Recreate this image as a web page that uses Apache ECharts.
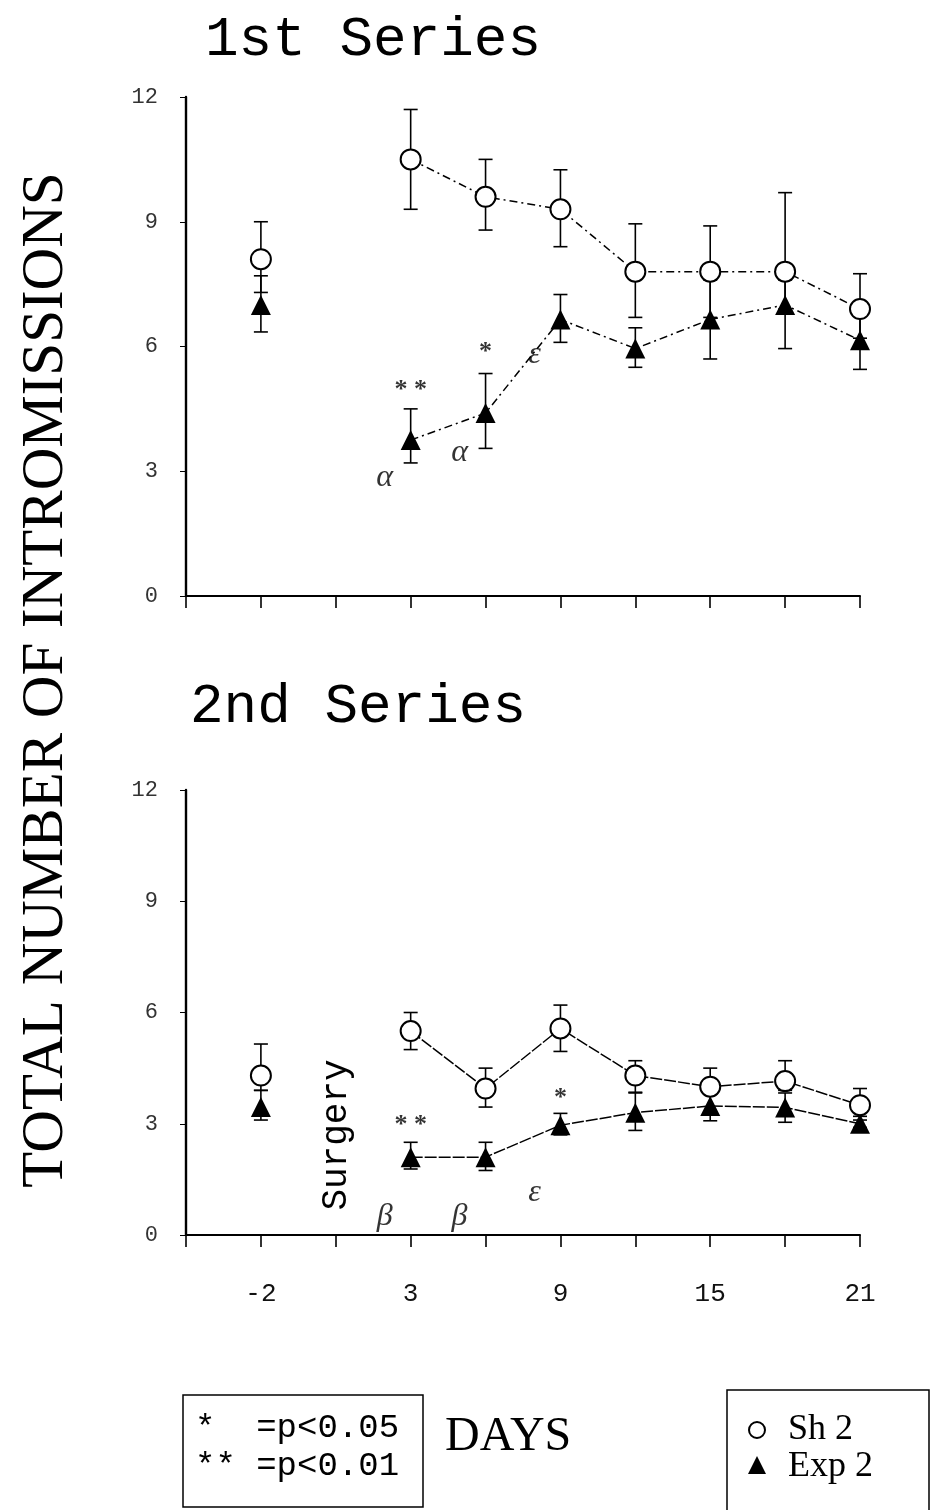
<!DOCTYPE html>
<html>
<head>
	<meta charset="utf-8" />
	<title>Total number of intromissions</title>
	<script src="https://cdn.jsdelivr.net/npm/echarts@6/dist/echarts.min.js"></script>
	<style>
		body { margin: 0; background: #fff; }
		#chart { width: 934px; height: 1510px; }
	</style>
</head>
<body>
<div id="chart"></div>
<script type="text/javascript">
	// x slots: axis start, day -2, surgery gap, then days 3..21
	var xCategories = ['start', '-2', 'surgery', '3', '6', '9', '12', '15', '18', '21'];
	var xTickLabels = ['', '-2', '', '3', '', '9', '', '15', '', '21'];
	var yTicks = [0, 3, 6, 9, 12];

	// 1st series
	var sh1    = [null, 8.1, null, 10.5, 9.6, 9.3, 7.8, 7.8, 7.8, 6.9];
	var sh1Lo  = [null, 7.3, null, 9.3, 8.8, 8.4, 6.7, 6.7, 6.9, 6.2];
	var sh1Hi  = [null, 9.0, null, 11.7, 10.5, 10.25, 8.95, 8.9, 9.7, 7.75];
	var exp1   = [null, 7.0, null, 3.75, 4.4, 6.65, 5.95, 6.65, 7.0, 6.15];
	var exp1Lo = [null, 6.35, null, 3.2, 3.55, 6.1, 5.5, 5.7, 5.95, 5.45];
	var exp1Hi = [null, 7.7, null, 4.5, 5.35, 7.25, 6.45, 7.6, 7.6, 6.8];

	// 2nd series
	var sh2    = [null, 4.3, null, 5.5, 3.95, 5.57, 4.3, 4.0, 4.15, 3.5];
	var sh2Lo  = [null, 3.9, null, 5.0, 3.45, 4.95, 3.85, 3.8, 3.9, 3.2];
	var sh2Hi  = [null, 5.15, null, 6.0, 4.5, 6.2, 4.7, 4.5, 4.7, 3.95];
	var exp2   = [null, 3.45, null, 2.1, 2.1, 2.96, 3.3, 3.48, 3.44, 3.0];
	var exp2Lo = [null, 3.1, null, 1.78, 1.74, 2.7, 2.82, 3.08, 3.04, 2.9];
	var exp2Hi = [null, 3.9, null, 2.5, 2.5, 3.28, 3.83, 3.83, 3.83, 3.1];

	// significance marks and letters: [slot, y, text]
	var stars1  = [[3, 4.95, '* *'], [4, 5.85, '*']];
	var greek1  = [[3, 2.85, 'α'], [4, 3.45, 'α'], [5, 5.8, 'ε']];
	var stars2  = [[3, 2.95, '* *'], [5, 3.7, '*']];
	var greek2  = [[3, 0.5, 'β'], [4, 0.5, 'β'], [5, 1.15, 'ε']];

	var legendNames = ['Sh 2', 'Exp 2'];

	var mono = 'Liberation Mono';
	var serif = 'Liberation Serif';

	function errRows(lo, hi) {
		var rows = [];
		for (var i = 0; i < lo.length; i++) {
			if (lo[i] != null) rows.push([i, lo[i], hi[i]]);
		}
		return rows;
	}

	function errRender(params, api) {
		var x = api.value(0);
		var a = api.coord([x, api.value(1)]);
		var b = api.coord([x, api.value(2)]);
		var w = 7;
		var st = { stroke: '#000', lineWidth: 1.6 };
		return {
			type: 'group',
			children: [
				{ type: 'line', shape: { x1: a[0], y1: a[1], x2: b[0], y2: b[1] }, style: st },
				{ type: 'line', shape: { x1: a[0] - w, y1: a[1], x2: a[0] + w, y2: a[1] }, style: st },
				{ type: 'line', shape: { x1: b[0] - w, y1: b[1], x2: b[0] + w, y2: b[1] }, style: st }
			]
		};
	}

	function xAxisFor(grid, showLabels) {
		return {
			type: 'category', gridIndex: grid, data: xCategories, boundaryGap: false,
			axisLine: { lineStyle: { color: '#000', width: 2 } },
			axisTick: { interval: 0, length: 12, lineStyle: { color: '#000', width: 1.6 } },
			axisLabel: {
				show: showLabels, interval: 0, margin: 46, color: '#111',
				fontFamily: mono, fontSize: 26,
				formatter: function (v, i) { return xTickLabels[i]; }
			},
			splitLine: { show: false }
		};
	}

	function yAxisFor(grid) {
		return {
			type: 'value', gridIndex: grid, min: yTicks[0], max: yTicks[yTicks.length - 1], interval: 3,
			axisLine: { show: true, lineStyle: { color: '#000', width: 2.4 } },
			axisTick: { show: true, length: 6, lineStyle: { color: '#000' } },
			axisLabel: { margin: 28, color: '#333', fontFamily: mono, fontSize: 22 },
			splitLine: { show: false }
		};
	}

	function panelSeries(idx, sh, shLo, shHi, ex, exLo, exHi, stars, greek, dash) {
		var lineType = dash ? [8, 4, 2, 4] : [12, 2];
		return [
			{
				type: 'custom', xAxisIndex: idx, yAxisIndex: idx, z: 1,
				renderItem: errRender, encode: { x: 0, y: [1, 2] },
				data: errRows(shLo, shHi).concat(errRows(exLo, exHi)), silent: true
			},
			{
				name: legendNames[0], type: 'line', xAxisIndex: idx, yAxisIndex: idx, z: 3,
				data: sh, symbol: 'emptyCircle', symbolSize: 20, showAllSymbol: true,
				itemStyle: { color: '#000', borderWidth: 1.6 },
				lineStyle: { color: '#000', width: 1.5, type: lineType }
			},
			{
				name: legendNames[1], type: 'line', xAxisIndex: idx, yAxisIndex: idx, z: 3,
				data: ex, symbol: 'triangle', symbolSize: 20, showAllSymbol: true,
				itemStyle: { color: '#000' },
				lineStyle: { color: '#000', width: 1.5, type: lineType }
			},
			{
				type: 'scatter', xAxisIndex: idx, yAxisIndex: idx, z: 4, symbolSize: 0,
				data: stars, silent: true,
				label: { show: true, position: 'inside', color: '#000', fontFamily: serif, fontSize: 26, fontWeight: 'bold',
					formatter: function (p) { return p.value[2]; } }
			},
			{
				type: 'scatter', xAxisIndex: idx, yAxisIndex: idx, z: 4, symbolSize: 0,
				data: greek, silent: true,
				label: { show: true, position: 'inside', offset: [-26, 0], color: '#000',
					fontFamily: serif, fontStyle: 'italic', fontSize: 32,
					formatter: function (p) { return p.value[2]; } }
			}
		];
	}

	var myChart = echarts.init(document.getElementById('chart'));
	var option = {
		backgroundColor: '#fff',
		animation: false,
		grid: [
			{ left: 186, width: 674, top: 97, height: 499 },
			{ left: 186, width: 674, top: 790, height: 445 }
		],
		xAxis: [xAxisFor(0, false), xAxisFor(1, true)],
		yAxis: [yAxisFor(0), yAxisFor(1)],
		series: [].concat(
			panelSeries(0, sh1, sh1Lo, sh1Hi, exp1, exp1Lo, exp1Hi, stars1, greek1, true),
			panelSeries(1, sh2, sh2Lo, sh2Hi, exp2, exp2Lo, exp2Hi, stars2, greek2, false)
		),
		graphic: [
			{ type: 'text', x: 205, y: 40, style: { text: '1st Series', font: '56px "Liberation Mono"', fill: '#000', verticalAlign: 'middle' } },
			{ type: 'text', x: 190, y: 707, style: { text: '2nd Series', font: '56px "Liberation Mono"', fill: '#000', verticalAlign: 'middle' } },
			{ type: 'text', x: 46, y: 680, rotation: Math.PI / 2,
				style: { text: 'TOTAL NUMBER OF INTROMISSIONS', font: '59px "Liberation Serif"', fill: '#000', align: 'center', verticalAlign: 'middle' } },
			{ type: 'text', x: 336, y: 1135, rotation: Math.PI / 2,
				style: { text: 'Surgery', font: '36px "Liberation Mono"', fill: '#000', align: 'center', verticalAlign: 'middle' } },
			// significance key
			{ type: 'rect', shape: { x: 183, y: 1395, width: 240, height: 112 }, style: { fill: 'none', stroke: '#000', lineWidth: 1.5 } },
			{ type: 'text', x: 195, y: 1428, style: { text: '*  =p<0.05', font: '34px "Liberation Mono"', fill: '#000', verticalAlign: 'middle' } },
			{ type: 'text', x: 195, y: 1466, style: { text: '** =p<0.01', font: '34px "Liberation Mono"', fill: '#000', verticalAlign: 'middle' } },
			{ type: 'text', x: 445, y: 1437, style: { text: 'DAYS', font: '48px "Liberation Serif"', fill: '#000', verticalAlign: 'middle' } },
			// series key
			{ type: 'rect', shape: { x: 727, y: 1390, width: 202, height: 130 }, style: { fill: 'none', stroke: '#000', lineWidth: 1.5 } },
			{ type: 'circle', shape: { cx: 757, cy: 1430, r: 8 }, style: { fill: '#fff', stroke: '#000', lineWidth: 2 } },
			{ type: 'polygon', shape: { points: [[757, 1456], [748, 1474], [766, 1474]] }, style: { fill: '#000' } },
			{ type: 'text', x: 788, y: 1430, style: { text: legendNames[0], font: '36px "Liberation Serif"', fill: '#000', verticalAlign: 'middle' } },
			{ type: 'text', x: 788, y: 1467, style: { text: legendNames[1], font: '36px "Liberation Serif"', fill: '#000', verticalAlign: 'middle' } }
		]
	};
	myChart.setOption(option);
</script>
</body>
</html>
